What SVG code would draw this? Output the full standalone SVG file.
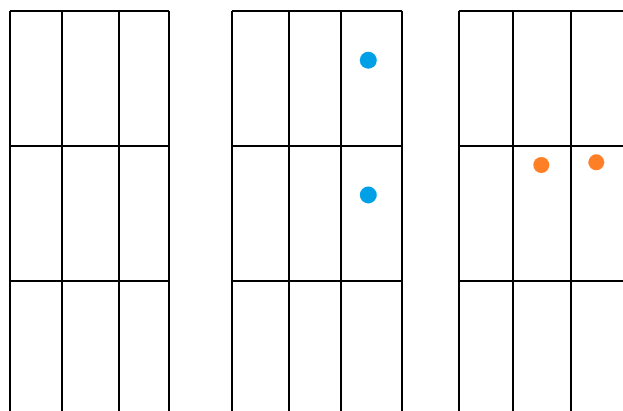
<svg xmlns="http://www.w3.org/2000/svg" width="623" height="411" viewBox="0 0 623 411">
<style>
.g{stroke:#000;stroke-width:2;fill:none}
.b{fill:#00a0e6}
.o{fill:#ff7f27}
</style>
<rect width="623" height="411" fill="#fff"/>
<g id="grid1" class="g">
<path d="M10 11H169M10 146H169M10 281H169M10 11V411M62 11V411M119 11V411M169 11V411"/>
</g>
<g id="grid2" class="g">
<path d="M232 11H402M232 146H402M232 281H402M232 11V411M289 11V411M341 11V411M402 11V411"/>
</g>
<g id="grid3" class="g">
<path d="M459 11H623M459 146H623M459 281H623M459 11V411M513 11V411M571 11V411"/>
</g>
<g id="dots">
<circle class="b" cx="368.3" cy="60.3" r="8.5"/>
<circle class="b" cx="368.3" cy="195" r="8.5"/>
<circle class="o" cx="541.3" cy="165" r="8"/>
<circle class="o" cx="596.3" cy="162.3" r="8"/>
</g>
</svg>
